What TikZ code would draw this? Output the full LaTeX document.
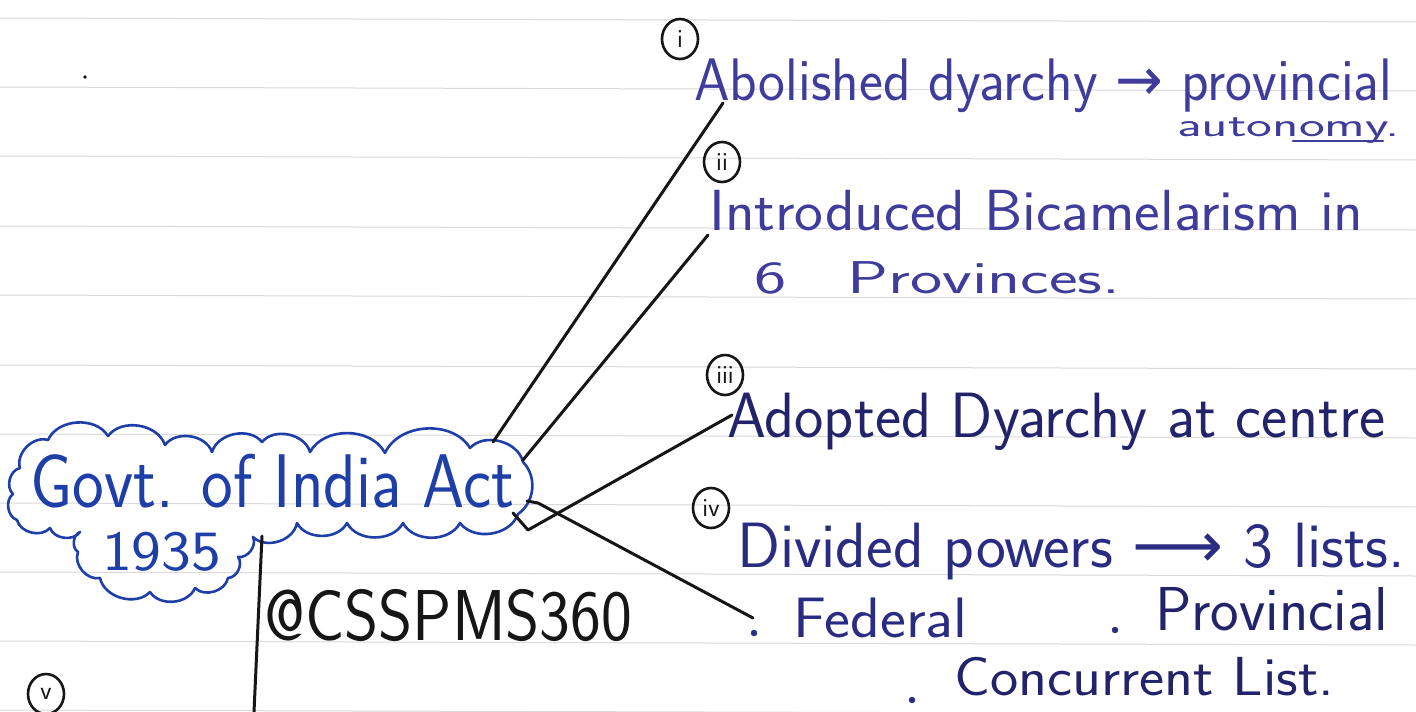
\documentclass[tikz,border=0pt]{standalone}
\usepackage{fontspec}
\usepackage{graphicx}
\usetikzlibrary{shapes.geometric}
\newfontfamily\arrfont{DejaVu Sans}
\definecolor{inkblue}{HTML}{1E3EA8}
\definecolor{inkviolet}{HTML}{3F3C9C}
\definecolor{inknavy}{HTML}{2A2C82}
\definecolor{inkdark}{HTML}{22236A}
\definecolor{inkblack}{HTML}{161616}
\definecolor{ruleclr}{HTML}{DADADA}
\newcommand{\hwtext}[3]{\resizebox{#1}{\height}{\fontsize{#2}{#2}\selectfont #3}}
\begin{document}
\begin{tikzpicture}[x=1pt,y=-1pt,
  txt/.style={inner sep=0pt, anchor=base west, font=\sffamily},
  conn/.style={draw=inkblack, line width=3pt, line cap=round, line join=round},
  num/.style={ellipse, draw=inkblack, line width=2.6pt, inner sep=0pt,
    minimum width=36pt, minimum height=40pt,
    font=\sffamily\fontsize{26pt}{26pt}\selectfont, text=inkblack},
  ruleline/.style={draw=ruleclr, line width=1pt},
  cloudline/.style={draw=inkblue, line width=2.6pt, line join=round, line cap=round},
  bl/.style={bend left=62},
  dotm/.style={circle, draw=inknavy, fill=inknavy, inner sep=0pt, minimum size=6pt}]
\fill[white] (0,0) rectangle (1416,712);
\useasboundingbox (0,0) rectangle (1416,712);
% ruled paper
\foreach \yy in {18,87,156,226,295,365,434,503,572,641,710}
  \draw[ruleline] (0,\yy) -- (1416,{\yy+4});
\fill[inkblack] (85,77) circle (1.8pt);
% cloud
\draw[cloudline]
  (20,468) to[bl] (48,440) to[bl] (108,436) to[bl] (165,445) to[bl] (212,452)
  to[bl] (262,442) to[bl] (310,452) to[bl] (385,453) to[bl] (470,448)
  to[bl] (523,462) to[bend left=50] (518,514)
  to[bl] (460,523) to[bl] (403,523) to[bl] (347,523) to[bl] (297,523)
  to[bl] (253,537) to[bl] (238,557) to[bl] (228,578)
  to[bl] (195,588) to[bl] (150,592) to[bl] (100,578)
  to[bl] (78,552) to[bl] (80,532)
  to[bl] (50,528) to[bl] (17,520) to[bl] (13,494) to[bl] (20,468);
\node[txt, text=inkblue] (g1) at (30,507) {\hwtext{484pt}{76pt}{Govt. of India Act}};
\node[txt, text=inkblue] (g2) at (102,570) {\hwtext{119pt}{57pt}{1935}};
% numbers
\node[num] (n1) at (680,39) {i};
\node[num] (n2) at (722,162) {ii};
\node[num] (n3) at (725,375) {iii};
\node[num] (n4) at (711,508) {iv};
\node[num] (n5) at (46,694) {v};
% texts
\node[txt, text=inkviolet] (t1) at (694,100) {\hwtext{698pt}{60pt}{Abolished dyarchy {\arrfont →} provincial}};
\node[txt, text=inkviolet] (t1b) at (1177,136) {\hwtext{222pt}{34pt}{autonomy.}};
\coordinate (u1) at (1293,141);
\coordinate (u2) at (1383,141);
\draw[draw=inkviolet, line width=2.4pt, line cap=round] (u1) -- (u2);
\node[txt, text=inkviolet] (t2) at (709,230) {\hwtext{654pt}{58pt}{Introduced Bicamelarism in}};
\node[txt, text=inkviolet] (t3) at (754,293) {\hwtext{366pt}{46pt}{6\hspace{0.9em}Provinces.}};
\node[txt, text=inkdark] (t4) at (727,437) {\hwtext{658pt}{64pt}{Adopted Dyarchy at centre}};
\node[txt, text=inknavy] (t5) at (737,567) {\hwtext{668pt}{64pt}{Divided powers {\arrfont ⟶} 3 lists.}};
\node[dotm] (d1) at (754,633) {};
\node[txt, text=inknavy] (t6) at (793,637) {\hwtext{174pt}{57pt}{Federal}};
\node[dotm] (d2) at (1115,630) {};
\node[txt, text=inkdark] (t7) at (1155,630) {\hwtext{233pt}{62pt}{Provincial}};
\node[dotm] (d3) at (912,700) {};
\node[txt, text=inkdark] (t8) at (954,695) {\hwtext{380pt}{55pt}{Concurrent List.}};
\node[txt, text=inkblack] (at) at (264,640) {\hwtext{368pt}{72pt}{@CSSPMS360}};
% connectors
\coordinate (c1a) at (493,442); \coordinate (c1b) at (723,103);
\coordinate (c2a) at (523,460); \coordinate (c2b) at (708,235);
\coordinate (c3a) at (513,513); \coordinate (c3m) at (528,530); \coordinate (c3b) at (732,415);
\coordinate (c4a) at (527,501); \coordinate (c4m) at (538,503); \coordinate (c4b) at (753,618);
\coordinate (c5a) at (262,536); \coordinate (c5b) at (254,712);
\draw[conn] (c1a) -- (c1b);
\draw[conn] (c2a) -- (c2b);
\draw[conn] (c3a) -- (c3m) -- (c3b);
\draw[conn] (c4a) -- (c4m) -- (c4b);
\draw[conn] (c5a) -- (c5b);
\end{tikzpicture}
\end{document}
